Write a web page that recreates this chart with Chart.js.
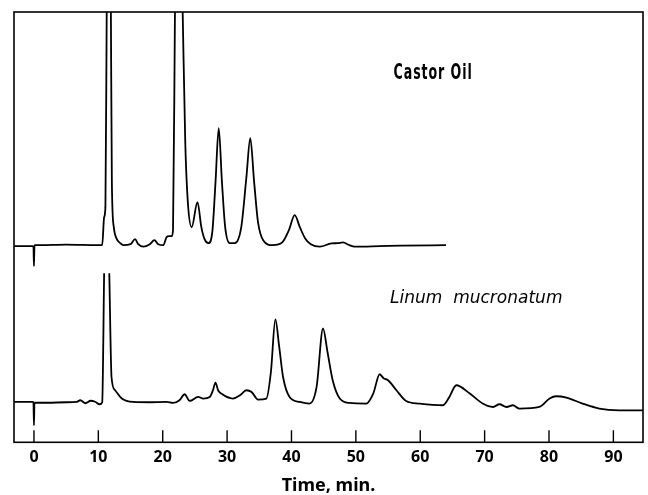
<!DOCTYPE html>
<html>
<head>
<meta charset="utf-8">
<script src="https://cdn.jsdelivr.net/npm/chart.js@4/dist/chart.umd.min.js"></script>
<style>
  body { margin: 0; background: #fff; }
  #wrap { width: 648px; height: 495px; }
</style>
</head>
<body>
<div id="wrap"><canvas id="chart"></canvas></div>
<script>
// time in minutes, signal in arbitrary recorder units (0 = bottom of frame)
const castorTime = [-3.1, -0.08, 0, 0.08, 1, 5, 10, 10.6, 10.9, 11.1, 11.3, 11.6, 11.95, 12.1, 12.4, 12.8, 13.4, 13.9,
  15.0, 15.7, 16.2, 17.0, 18.0, 18.7, 19.3, 20.1, 20.6, 21.0, 21.4, 21.6, 21.9, 22.5, 23.1, 23.5, 23.9, 24.5,
  25.4, 26.0, 26.5, 27.1, 27.7, 28.2, 28.7, 29.2, 29.7, 30.4, 31.2, 32.2, 33.0, 33.6, 34.2, 34.8, 35.6, 37.1,
  38.6, 39.6, 40.5, 41.3, 42.1, 43.0, 44.4, 46.2, 47.2, 48.0, 49.0, 49.8, 53.7, 57, 64.0];
const castorSignal = [196, 196, 176, 197, 197, 197.5, 197, 197, 225, 235, 430, null, 430, 260, 215, 204, 199, 197,
  198, 203, 198, 195.5, 198, 202, 198, 197, 205, 206, 206, 212, 430, null, 430, 300, 240, 215,
  240, 215, 203, 199, 210, 260, 314, 260, 215, 199, 199, 215, 265, 304, 260, 220, 202, 197,
  200, 212, 227, 215, 204, 198, 195.5, 198.7, 199, 199.7, 197, 195.5, 196, 196.5, 197];

const linumTime = [-3.1, -0.08, 0, 0.08, 2, 5, 6.6, 7.2, 8.0, 8.8, 9.5, 10.2, 10.6, 10.9, 11.3, 11.7, 12.05, 12.6,
  13.6, 15.4, 18, 20.6, 21.6, 22.6, 23.4, 24.2, 25.5, 26.3, 27.3, 27.8, 28.2, 28.6, 29.1, 30.9, 32.0, 33.0,
  33.8, 34.8, 36.1, 36.8, 37.5, 38.1, 38.7, 39.7, 41.3, 42.8, 43.9, 44.9, 45.6, 46.4, 47.5, 49.0, 51.6, 52.7,
  53.7, 54.3, 55.0, 56.3, 57.8, 59.9, 63.5, 64.5, 65.6, 67.7, 69.7, 71.3, 72.3, 73.4, 74.4, 75.4, 78.5, 80.1,
  81.1, 82.7, 85.2, 87.8, 90.9, 94.6];
const linumSignal = [40.3, 40.3, 17, 39.5, 39.5, 40, 40.3, 42, 39, 41.5, 40.5, 38, 40, 169, null, 169, 65, 52,
  44, 40.3, 40, 40.3, 39.3, 42, 48, 41.3, 45.3, 43.7, 45.3, 52, 59.7, 52, 48.7, 43.7, 47, 52,
  50.3, 42.7, 43.7, 70, 122.7, 95, 65, 45.3, 40.3, 38.7, 55.3, 113.7, 90, 62, 43.7, 39.3, 38.7, 48.7,
  68, 64, 62, 52, 41.3, 38.7, 37, 45, 57, 48.7, 38.7, 35.3, 38, 35.3, 37, 33.7, 35.3, 43.7,
  46, 44.7, 38.7, 33.7, 32, 32];

const xTicks = [0, 10, 20, 30, 40, 50, 60, 70, 80, 90];

const toPoints = (xs, ys) => xs.map((x, i) => ({ x: x, y: ys[i] }));

const narrow = "'Noto Sans', 'DejaVu Sans'";

// squeeze a caption to the width it has in the original
function squeezedText(ctx, text, x, y, width) {
  const w = ctx.measureText(text).width;
  const k = Math.min(1, width / w);
  ctx.save();
  ctx.translate(x, y);
  ctx.scale(k, 1);
  ctx.fillText(text, 0, 0);
  ctx.restore();
}

// frame, inward ticks and the two trace captions
const framePlugin = {
  id: "frame",
  afterDatasetsDraw(chart) {
    const { ctx, chartArea: a, scales } = chart;
    ctx.save();
    ctx.strokeStyle = "#000";
    ctx.lineWidth = 1.6;
    ctx.strokeRect(a.left, a.top, a.right - a.left, a.bottom - a.top);
    ctx.lineWidth = 1.4;
    ctx.beginPath();
    for (const t of scales.x.ticks) {
      const px = scales.x.getPixelForValue(t.value);
      ctx.moveTo(px, a.bottom);
      ctx.lineTo(px, a.bottom - 12);
    }
    ctx.stroke();

    ctx.fillStyle = "#000";
    ctx.textAlign = "center";
    ctx.textBaseline = "middle";
    ctx.font = "bold 21px 'DejaVu Sans'";
    ctx.letterSpacing = "1.5px";
    squeezedText(ctx, "Castor Oil", scales.x.getPixelForValue(62.0), scales.y.getPixelForValue(368), 79);
    ctx.font = "italic 17px 'DejaVu Sans'";
    ctx.letterSpacing = "0px";
    ctx.fillText("Linum  mucronatum", scales.x.getPixelForValue(68.7), scales.y.getPixelForValue(144));
    ctx.restore();
  }
};

const ctx = document.getElementById("chart").getContext("2d");
new Chart(ctx, {
  type: "line",
  data: {
    datasets: [
      {
        label: "Castor Oil",
        data: toPoints(castorTime, castorSignal),
        borderColor: "#000",
        borderWidth: 1.8,
        pointRadius: 0,
        fill: false,
        cubicInterpolationMode: "monotone"
      },
      {
        label: "Linum mucronatum",
        data: toPoints(linumTime, linumSignal),
        borderColor: "#000",
        borderWidth: 1.8,
        pointRadius: 0,
        fill: false,
        cubicInterpolationMode: "monotone"
      }
    ]
  },
  options: {
    responsive: true,
    maintainAspectRatio: false,
    animation: false,
    layout: { padding: { left: 14, right: 5, top: 12, bottom: 0 } },
    scales: {
      x: {
        type: "linear",
        min: -3.1,
        max: 94.6,
        afterBuildTicks: scale => {
          scale.ticks = xTicks.map(v => ({ value: v }));
        },
        grid: { display: false, drawTicks: false },
        border: { display: false },
        ticks: {
          autoSkip: false,
          maxRotation: 0,
          padding: 6,
          color: "#000",
          font: { family: narrow, size: 16, weight: "bold" }
        },
        title: {
          display: true,
          text: "Time, min.",
          color: "#000",
          padding: { top: 3.5, bottom: 0 },
          font: { family: narrow, size: 18, weight: "bold", lineHeight: 1.0 }
        }
      },
      y: {
        display: false,
        min: 0,
        max: 430
      }
    },
    plugins: {
      legend: { display: false },
      tooltip: { enabled: false }
    }
  },
  plugins: [framePlugin]
});
</script>
</body>
</html>
